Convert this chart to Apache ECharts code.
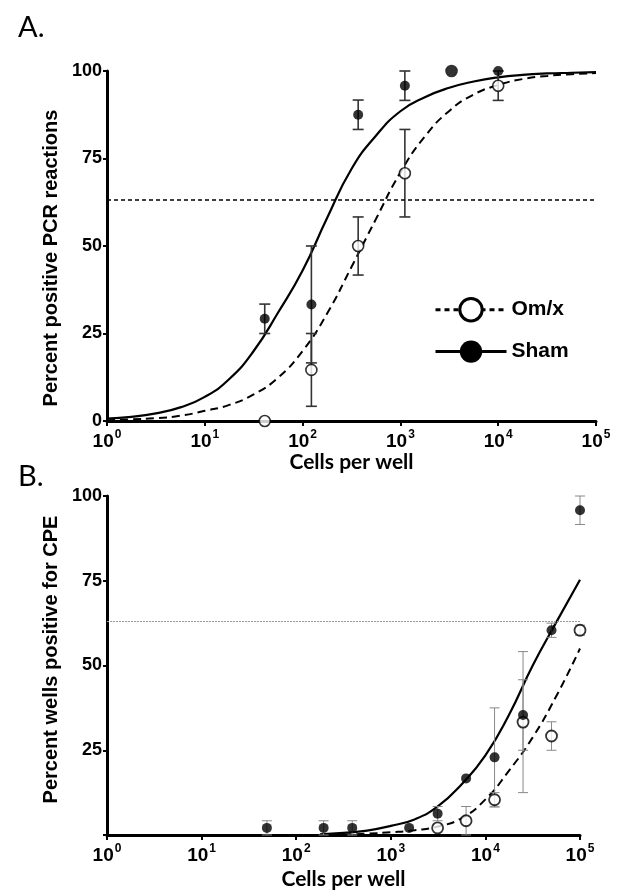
<!DOCTYPE html>
<html>
<head>
<meta charset="utf-8">
<script src="https://cdn.jsdelivr.net/npm/echarts@6/dist/echarts.min.js"></script>
<style>
html,body{margin:0;padding:0;background:#fff;}
#chart{width:619px;height:896px;}
</style>
</head>
<body>
<div id="chart"></div>
<script>
// ---------- Data ----------
const seriesNames = ['Om/x', 'Sham'];
const refLevel = 63.2;
const yTicks = [0, 25, 50, 75, 100];
const xTickExponents = [0, 1, 2, 3, 4, 5];

// Panel A: PCR
const aX = [41, 123, 370, 1111, 3333, 10000];
const aShamY = [29.2, 33.3, 87.5, 95.8, 100, 100];
const aShamErr = [4.2, 16.7, 4.2, 4.2, 0, 0];
const aOmxY = [0, 14.6, 50, 70.8, 100, 95.8];
const aOmxErr = [0, 10.4, 8.3, 12.5, 0, 4.2];
// fitted curves, every quarter decade
const aCurveX = [1, 1.78, 3.16, 5.62, 10, 17.8, 31.6, 56.2, 100, 178, 316, 562, 1000, 1778, 3162, 5623, 10000, 17783, 31623, 56234, 100000];
const aShamCurveY = [0.7, 1.2, 2.2, 3.9, 6.9, 12, 20, 31, 43, 58, 72, 81.5, 88.5, 92.5, 95.2, 97, 98.2, 98.9, 99.3, 99.5, 99.7];
const aOmxCurveY = [0.25, 0.45, 0.8, 1.5, 2.9, 4.6, 7.6, 12.4, 20, 30.7, 44, 57.7, 71, 81.3, 88.6, 93.3, 96, 97.7, 98.6, 99.1, 99.4];

// Panel B: CPE
const bShamX = [49, 195, 391, 1563, 3125, 6250, 12500, 25000, 50000, 100000];
const bShamY = [2.1, 2.1, 2.1, 2.1, 6.3, 16.7, 22.9, 35.4, 60.4, 95.8];
const bShamErr = [2.1, 2.1, 2.1, 0, 2.1, 0, 14.6, 10.4, 2.1, 4.2];
const bOmxX = [3125, 6250, 12500, 25000, 50000, 100000];
const bOmxY = [2.1, 4.2, 10.4, 33.3, 29.2, 60.4];
const bOmxErr = [0, 4.2, 2.1, 20.8, 4.2, 1.5];
const bShamCurveX = [178, 316, 562, 1000, 1778, 3162, 5623, 10000, 17783, 31623, 56234, 100000];
const bShamCurveY = [0.2, 0.6, 1.3, 2.7, 4.6, 8.5, 15, 23.5, 35.5, 50, 62.8, 75.3];
const bOmxCurveX = [316, 562, 1000, 1778, 3162, 5623, 10000, 17783, 31623, 56234, 100000];
const bOmxCurveY = [0.1, 0.4, 0.8, 1.4, 2.5, 5, 10.5, 19, 28.8, 41, 55];

// ---------- Helpers ----------
const zip = (xs, ys) => xs.map((x, i) => [x, ys[i]]);
const errData = (xs, ys, es) => xs.map((x, i) => [x, ys[i] - es[i], ys[i] + es[i]]).filter((d, i) => es[i] > 0);
function errRender(color, width, cap) {
  return function (params, api) {
    const x = api.value(0), lo = api.value(1), hi = api.value(2);
    const p1 = api.coord([x, lo]), p2 = api.coord([x, hi]);
    const h = cap / 2;
    const st = { stroke: color, lineWidth: width };
    return {
      type: 'group', children: [
        { type: 'line', shape: { x1: p1[0], y1: p1[1], x2: p2[0], y2: p2[1] }, style: st },
        { type: 'line', shape: { x1: p1[0] - h, y1: p1[1], x2: p1[0] + h, y2: p1[1] }, style: st },
        { type: 'line', shape: { x1: p2[0] - h, y1: p2[1], x2: p2[0] + h, y2: p2[1] }, style: st }
      ]
    };
  };
}

const ARIAL = 'Liberation Sans, Arial, sans-serif';
const CALIBRI = 'Lato, Open Sans, sans-serif';

function xAxisDef(gridIndex, nameGap) {
  return {
    type: 'log', logBase: 10, gridIndex, min: 1, max: 100000, splitNumber: 5,
    name: 'Cells per well', nameLocation: 'middle', nameGap,
    nameTextStyle: { fontFamily: CALIBRI, fontSize: 21, fontWeight: 'bold', color: '#000' },
    axisLine: { show: true, onZero: false, lineStyle: { color: '#000', width: 3 } },
    axisTick: { show: true, inside: false, length: 5, lineStyle: { color: '#000', width: 2 } },
    minorTick: { show: false },
    splitLine: { show: false },
    axisLabel: {
      margin: 8,
      formatter: function (v) {
        const e = Math.round(Math.log10(v));
        if (xTickExponents.indexOf(e) < 0) return '';
        return '{b|10}{s|' + e + '}';
      },
      rich: {
        b: { fontFamily: ARIAL, fontSize: 19, fontWeight: 'bold', color: '#000', verticalAlign: 'bottom', lineHeight: 22 },
        s: { fontFamily: ARIAL, fontSize: 12, fontWeight: 'bold', color: '#000', verticalAlign: 'top', lineHeight: 22, padding: [0, 0, 0, 1] }
      }
    }
  };
}
function yAxisDef(gridIndex, name, showZero, namePad) {
  return {
    type: 'value', gridIndex, min: yTicks[0], max: yTicks[yTicks.length - 1], interval: 25,
    name, nameLocation: 'middle', nameGap: 40,
    nameTextStyle: { fontFamily: ARIAL, fontSize: 20, fontWeight: 'bold', color: '#000', padding: namePad },
    axisLine: { show: true, onZero: false, lineStyle: { color: '#000', width: 3 } },
    axisTick: { show: true, inside: false, length: 4, lineStyle: { color: '#000', width: 2 } },
    splitLine: { show: false },
    axisLabel: {
      margin: 5, fontFamily: ARIAL, fontSize: 18, fontWeight: 'bold', color: '#000',
      formatter: v => (v === 0 && !showZero) ? '' : String(v)
    }
  };
}

const chart = echarts.init(document.getElementById('chart'), null, { renderer: 'canvas' });
const curveCommon = { type: 'line', showSymbol: false, symbol: 'circle', smooth: 0.5, z: 3 };
const option = {
  animation: false,
  backgroundColor: '#fff',
  title: [
    { text: 'A.', left: 13, top: 8, textStyle: { fontFamily: CALIBRI, fontSize: 29, fontWeight: 'normal', color: '#000' } },
    { text: 'B.', left: 13, top: 457, textStyle: { fontFamily: CALIBRI, fontSize: 29, fontWeight: 'normal', color: '#000' } }
  ],
  legend: {
    orient: 'vertical', left: 429, top: 292, itemWidth: 71, itemHeight: 28, itemGap: 18,
    textStyle: { fontFamily: ARIAL, fontSize: 21, fontWeight: 'bold', color: '#000' },
    selectedMode: false,
    data: [
      { name: seriesNames[0], itemStyle: { color: '#fff', borderColor: '#000', borderWidth: 3 }, lineStyle: { color: '#000', width: 3, type: [5, 4] } },
      { name: seriesNames[1], itemStyle: { color: '#000', borderColor: '#000', borderWidth: 0 }, lineStyle: { color: '#000', width: 3, type: 'solid' } }
    ]
  },
  grid: [
    { left: 107, top: 71, width: 489, height: 350, outerBoundsMode: 'none' },
    { left: 107, top: 496, width: 473, height: 339, outerBoundsMode: 'none' }
  ],
  xAxis: [xAxisDef(0, 30), xAxisDef(1, 34)],
  yAxis: [
    yAxisDef(0, 'Percent positive PCR reactions', true, [0, 24, 0, 0]),
    yAxisDef(1, 'Percent wells positive for CPE', false, [0, 0, 0, 12])
  ],
  series: [
    // Curves panel A
    Object.assign({}, curveCommon, { name: seriesNames[0], xAxisIndex: 0, yAxisIndex: 0, data: zip(aCurveX, aOmxCurveY),
      lineStyle: { color: '#000', width: 2, type: [8, 5] }, itemStyle: { color: '#fff', borderColor: '#000', borderWidth: 3 },
      markLine: { silent: true, symbol: ['none', 'none'], label: { show: false }, lineStyle: { color: '#000', width: 1.5, type: [4, 3] }, data: [{ yAxis: refLevel }] } }),
    Object.assign({}, curveCommon, { name: seriesNames[1], xAxisIndex: 0, yAxisIndex: 0, data: zip(aCurveX, aShamCurveY),
      lineStyle: { color: '#000', width: 2.2 }, itemStyle: { color: '#000' } }),
    // Curves panel B
    Object.assign({}, curveCommon, { name: seriesNames[0], xAxisIndex: 1, yAxisIndex: 1, data: zip(bOmxCurveX, bOmxCurveY),
      lineStyle: { color: '#000', width: 2, type: [8, 5] }, itemStyle: { color: '#fff', borderColor: '#000', borderWidth: 3 },
      markLine: { silent: true, symbol: ['none', 'none'], label: { show: false }, lineStyle: { color: '#999', width: 1, type: [2, 1] }, data: [{ yAxis: refLevel }] } }),
    Object.assign({}, curveCommon, { name: seriesNames[1], xAxisIndex: 1, yAxisIndex: 1, data: zip(bShamCurveX, bShamCurveY),
      lineStyle: { color: '#000', width: 2.2 }, itemStyle: { color: '#000' } }),
    // Error bars
    { type: 'custom', xAxisIndex: 0, yAxisIndex: 0, renderItem: errRender('#333', 1.6, 11), data: errData(aX, aOmxY, aOmxErr), encode: { x: 0, y: [1, 2] }, z: 4, clip: false },
    { type: 'custom', xAxisIndex: 0, yAxisIndex: 0, renderItem: errRender('#333', 1.6, 11), data: errData(aX, aShamY, aShamErr), encode: { x: 0, y: [1, 2] }, z: 4, clip: false },
    { type: 'custom', xAxisIndex: 1, yAxisIndex: 1, renderItem: errRender('#888', 1, 10), data: errData(bOmxX, bOmxY, bOmxErr), encode: { x: 0, y: [1, 2] }, z: 4, clip: false },
    { type: 'custom', xAxisIndex: 1, yAxisIndex: 1, renderItem: errRender('#888', 1, 10), data: errData(bShamX, bShamY, bShamErr), encode: { x: 0, y: [1, 2] }, z: 4, clip: false },
    // Points
    { name: seriesNames[0], type: 'scatter', xAxisIndex: 0, yAxisIndex: 0, data: zip(aX, aOmxY), symbol: 'circle', symbolSize: 11, clip: false,
      itemStyle: { color: '#fff', borderColor: '#000', borderWidth: 1.6 }, z: 5 },
    { name: seriesNames[1], type: 'scatter', xAxisIndex: 0, yAxisIndex: 0, data: zip(aX, aShamY), symbol: 'circle', symbolSize: 10, clip: false,
      itemStyle: { color: '#000' }, z: 6 },
    { name: seriesNames[0], type: 'scatter', xAxisIndex: 1, yAxisIndex: 1, data: zip(bOmxX, bOmxY), symbol: 'circle', symbolSize: 11, clip: false,
      itemStyle: { color: '#fff', borderColor: '#000', borderWidth: 1.8 }, z: 5 },
    { name: seriesNames[1], type: 'scatter', xAxisIndex: 1, yAxisIndex: 1, data: zip(bShamX, bShamY), symbol: 'circle', symbolSize: 10, clip: false,
      itemStyle: { color: '#000' }, z: 6 }
  ]
};
chart.setOption(option);
</script>
</body>
</html>
